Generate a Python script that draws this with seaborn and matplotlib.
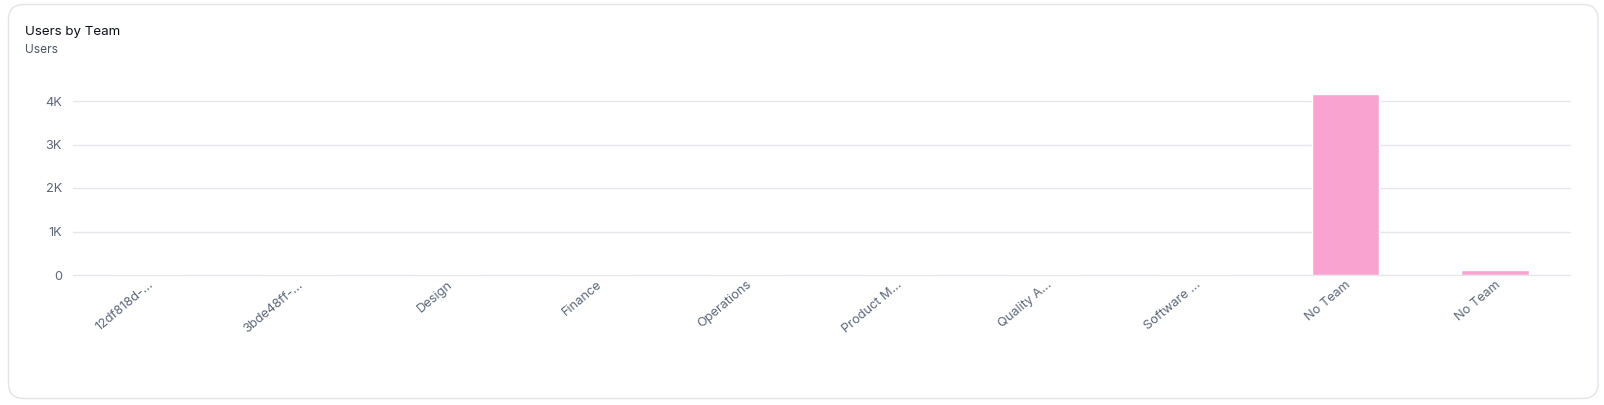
import matplotlib
matplotlib.use("Agg")
import matplotlib.pyplot as plt
from matplotlib.patches import FancyBboxPatch
from matplotlib.ticker import FuncFormatter
import seaborn as sns
import pandas as pd

teams = ["12df818d-…", "3bde48ff-…", "Design", "Finance", "Operations",
         "Product M…", "Quality A…", "Software …", "No Team", "No Team"]
users = [25, 12, 15, 12, 30, 15, 20, 15, 4155, 115]

sns.set_theme(style="white")
plt.rcParams['font.family'] = ['Inter', 'DejaVu Sans']

W, H = 1604, 405
fig = plt.figure(figsize=(W / 100, H / 100), dpi=100)
fig.patch.set_facecolor("white")

card = FancyBboxPatch((8.5 / W, 6.5 / H), (1598 - 8.5) / W, (400.5 - 6.5) / H,
                      boxstyle="round,pad=0,rounding_size=0.0095",
                      transform=fig.transFigure, facecolor="white",
                      edgecolor="#e2e4e9", linewidth=1.0, mutation_aspect=W / H,
                      zorder=-5)
fig.patches.append(card)

fig.text(25 / W, 1 - 32 / H, "Users by Team", fontsize=9.6, color="#0b0f19",
         va="center", ha="left")
fig.text(25 / W, 1 - 50 / H, "Users", fontsize=8.6, color="#4b5563",
         va="center", ha="left")

left, right = 73 / W, 1570 / W
bottom = 1 - 275 / H
ymax = 4200
top_px = 275 - ymax / 1000 * 43.5
ax = fig.add_axes([left, bottom, right - left, (275 - top_px) / H])
ax.set_zorder(5)

df = pd.DataFrame({"idx": [str(i) for i in range(len(teams))], "users": users})
sns.barplot(data=df, x="idx", y="users", ax=ax, color="#f9a3d1",
            width=0.45, saturation=1, zorder=3)

ax.set_ylim(0, ymax)
ax.set_xlim(-0.5, len(teams) - 0.5)
ax.set_yticks([0, 1000, 2000, 3000, 4000])
ax.yaxis.set_major_formatter(FuncFormatter(lambda v, p: "0" if v == 0 else f"{int(v/1000)}K"))
ax.grid(axis="y", color="#e5e7eb", linewidth=1.0, zorder=0)
for gl in ax.get_ygridlines():
    gl.set_clip_on(False)
ax.set_xticks(range(len(teams)))
ax.set_xticklabels(teams, rotation=40, ha="right", rotation_mode="anchor")
for s in ax.spines.values():
    s.set_visible(False)
ax.tick_params(axis="both", length=0, labelsize=9.2, colors="#5b6678")
ax.tick_params(axis="y", pad=8)
ax.tick_params(axis="x", pad=2.5)
ax.set_xlabel("")
ax.set_ylabel("")
ax.set_facecolor("none")

fig.savefig("out.png", dpi=100, facecolor="white")
